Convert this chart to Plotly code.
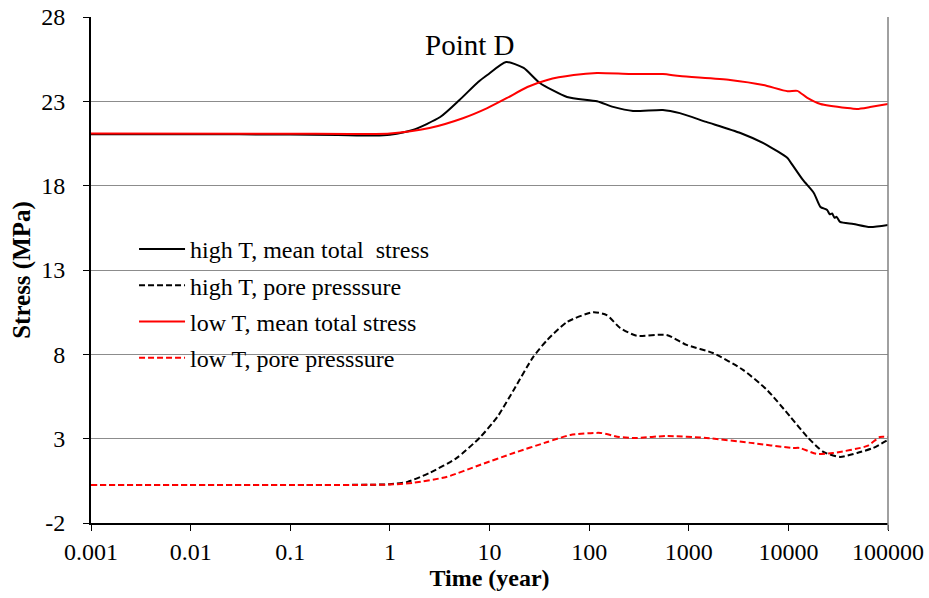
import plotly.graph_objects as go

# ---- data ----
t_high_total = [0.001, 0.01, 0.1, 0.3, 0.7, 1, 1.7, 3.2, 5, 7.7, 9.5, 14.7, 22, 32, 60, 120,
                174, 276, 550, 813, 1500, 3300, 6100, 9800, 10500, 14000, 18000, 21000,
                24500, 26000, 27500, 29000, 30500, 33000, 45000, 66000, 100000]
s_high_total = [21.05, 21.05, 21.03, 21.0, 20.97, 21.02, 21.3, 22.07, 23.08, 24.15, 24.56, 25.33,
                24.98, 24.09, 23.26, 23.0, 22.67, 22.43, 22.49, 22.3, 21.78, 21.12, 20.41,
                19.64, 19.4, 18.34, 17.57, 16.74, 16.56, 16.3, 16.35, 16.1, 16.15, 15.85,
                15.73, 15.55, 15.67]

t_high_pore = [0.001, 0.1, 1, 1.5, 2.5, 4.7, 8.1, 12, 17.5, 27.5, 38, 60, 110, 150, 205, 300,
               600, 950, 1750, 3500, 6100, 10500, 15500, 22500, 33000, 49000, 71000, 100000]
s_high_pore = [0.25, 0.25, 0.3, 0.44, 0.97, 1.86, 3.1, 4.29, 5.89, 7.85, 8.85, 9.92, 10.5,
               10.33, 9.56, 9.1, 9.15, 8.56, 8.08, 7.08, 5.89, 4.29, 3.1, 2.21, 1.92, 2.15,
               2.45, 2.93]

t_low_total = [0.001, 0.1, 1, 2.5, 5.4, 9.5, 15, 24, 38, 70, 120, 260, 550, 813, 2600, 5600,
               9800, 12300, 15500, 21000, 39000, 49000, 66000, 100000]
s_low_total = [21.1, 21.08, 21.1, 21.42, 22.0, 22.6, 23.2, 23.85, 24.27, 24.56, 24.68, 24.62,
               24.62, 24.5, 24.27, 23.97, 23.6, 23.62, 23.2, 22.84, 22.6, 22.55, 22.66, 22.84]

t_low_pore = [0.001, 0.1, 1, 1.7, 3.7, 8, 17.5, 38, 65, 130, 200, 300, 600, 1500, 4200, 11000,
              13000, 19000, 28000, 62000, 83000, 100000]
s_low_pore = [0.25, 0.25, 0.28, 0.38, 0.73, 1.44, 2.15, 2.8, 3.22, 3.34, 3.1, 3.04, 3.16, 3.04,
              2.75, 2.45, 2.45, 2.1, 2.15, 2.57, 3.1, 3.1]

x_tickvals = [0.001, 0.01, 0.1, 1, 10, 100, 1000, 10000, 100000]
x_ticktext = ["0.001", "0.01", "0.1", "1", "10", "100", "1000", "10000", "100000"]
y_tickvals = [-2, 3, 8, 13, 18, 23, 28]
y_ticktext = ["-2", "3", "8", "13", "18", "23", "28"]

names = ["high T, mean total  stress", "high T, pore presssure",
         "low T, mean total stress", "low T, pore presssure"]

FONT = "Liberation Serif"

fig = go.Figure()
series = [
    (t_high_total, s_high_total, names[0], "black", "solid"),
    (t_high_pore, s_high_pore, names[1], "black", "6px,3px"),
    (t_low_total, s_low_total, names[2], "#ff0000", "solid"),
    (t_low_pore, s_low_pore, names[3], "#ff0000", "6px,3px"),
]
for i, (tx, sy, nm, col, dash) in enumerate(series):
    fig.add_trace(go.Scatter(
        x=tx, y=sy, name=nm, mode="lines", legendgroup=f"g{i}",
        line=dict(color=col, width=2, dash=dash, shape="spline", smoothing=0.6),
    ))

# annotation x is in log10 units on a log axis
fig.add_annotation(x=0.8, y=26.35, xref="x", yref="y", text="Point D", showarrow=False,
                   xanchor="center", yanchor="middle",
                   font=dict(family=FONT, size=29, color="black"))

# right border of plot area
fig.add_shape(type="line", xref="paper", yref="paper", x0=1, x1=1, y0=-0.014, y1=1,
              line=dict(color="#808080", width=1.5))

fig.update_layout(
    width=929, height=598,
    margin=dict(l=91, r=41, t=17, b=75, autoexpand=False),
    paper_bgcolor="white", plot_bgcolor="white",
    font=dict(family=FONT, size=24, color="black"),
    showlegend=True,
    legend=dict(x=0.054, y=0.585, xanchor="left", yanchor="top",
                bgcolor="rgba(0,0,0,0)", font=dict(family=FONT, size=24),
                traceorder="grouped", tracegroupgap=2, itemwidth=46),
    xaxis=dict(type="log", range=[-3, 5], tickvals=x_tickvals, ticktext=x_ticktext,
               showgrid=False, showline=True, linecolor="black", linewidth=2,
               ticks="outside", ticklen=6, tickcolor="black", tickwidth=1,
               automargin=False, ticklabeloverflow="allow",
               title=dict(text="<b>Time (year)</b>", font=dict(family=FONT, size=24), standoff=2),
               zeroline=False),
    yaxis=dict(range=[-2, 28], tickvals=y_tickvals, ticktext=y_ticktext,
               showgrid=True, gridcolor="#8c8c8c",
               gridwidth=1, showline=True, linecolor="black", linewidth=2,
               ticks="outside", ticklen=6, tickcolor="black", tickwidth=1,
               automargin=False, ticklabeloverflow="allow", ticklabelstandoff=13,
               title=dict(text="<b>Stress (MPa)</b>", font=dict(family=FONT, size=25), standoff=3),
               zeroline=False),
)

# remove the default page margin so the 929x598 figure fills the window exactly
fig.write_html("out.html", config={"displayModeBar": False},
               post_script="document.body.style.margin='0';document.body.style.overflow='hidden';")
